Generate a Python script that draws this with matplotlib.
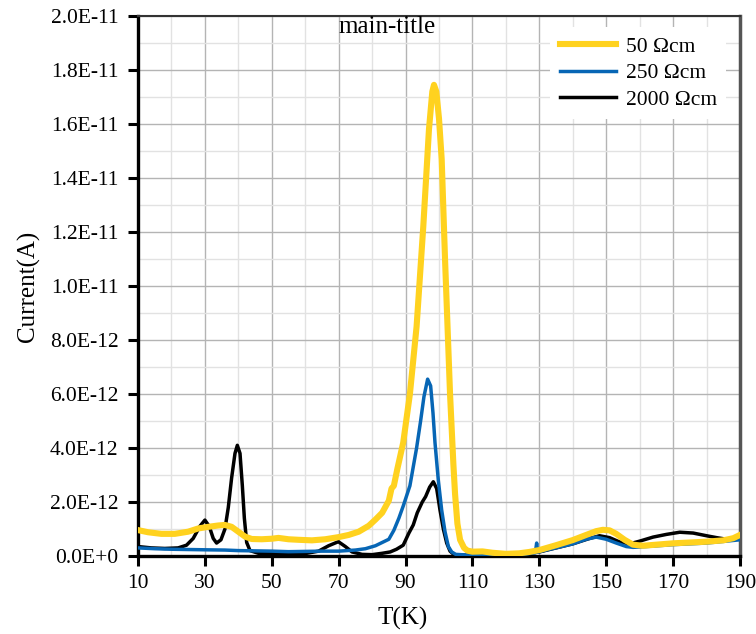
import numpy as np
import matplotlib.pyplot as plt
from matplotlib.ticker import MultipleLocator, FixedLocator

plt.rcParams['font.family'] = ['Liberation Serif', 'DejaVu Serif']

# temperature (K) / current (1e-12 A)
t_50 = [10, 13, 17, 21, 25, 28, 31, 34, 36, 38, 40, 42, 44, 47, 50, 52, 55, 58, 62, 66,
        70, 73, 76, 79, 81, 83, 85, 85.8, 86.5, 87.5, 89.3, 91.3, 93.3, 95.3, 97, 98, 98.5,
        99.2, 100, 100.8, 101.8, 103.3, 104.3, 104.8, 105.5, 106.3, 107.5, 108.5, 110, 113,
        116, 120, 124, 127, 130, 135, 140, 144, 147, 149, 151, 153, 155.5, 158, 161, 165,
        170, 175, 180, 185, 188, 190]
i_50 = [0.96, 0.88, 0.82, 0.82, 0.9, 1.02, 1.08, 1.13, 1.15, 1.08, 0.9, 0.72, 0.63, 0.62,
        0.64, 0.67, 0.62, 0.6, 0.58, 0.62, 0.7, 0.78, 0.9, 1.12, 1.35, 1.6, 2.05, 2.5, 2.6,
        3.2, 4.2, 6.0, 8.5, 12.2, 15.8, 17.2, 17.45, 17.2, 16.2, 14.7, 11.0, 6.0, 3.4, 2.3,
        1.2, 0.6, 0.3, 0.2, 0.16, 0.17, 0.12, 0.08, 0.1, 0.15, 0.22, 0.4, 0.59, 0.78, 0.92,
        0.97, 0.95, 0.82, 0.6, 0.42, 0.38, 0.42, 0.47, 0.5, 0.53, 0.58, 0.66, 0.78]

t_250 = [10, 15, 20, 25, 30, 36, 40, 45, 50, 55, 60, 65, 70, 75, 78, 81, 83, 85, 86.5, 88,
         89.3, 91.3, 93.3, 94.5, 95.5, 96.6, 97.5, 98.2, 98.8, 99.8, 100.8, 101.8, 102.8,
         103.8, 105, 108, 112, 116, 120, 125, 128.8, 129.2, 129.5, 132, 136, 140, 144, 147,
         150, 153, 156, 158, 162, 170, 180, 190]
i_250 = [0.3, 0.27, 0.25, 0.24, 0.23, 0.22, 0.2, 0.19, 0.18, 0.16, 0.17, 0.18, 0.18, 0.22,
         0.27, 0.38, 0.5, 0.62, 0.95, 1.4, 1.85, 2.6, 4.0, 5.0, 5.9, 6.55, 6.3, 5.3, 4.2,
         2.8, 1.7, 0.9, 0.35, 0.15, 0.06, 0.04, 0.05, 0.03, 0.02, 0.06, 0.12, 0.48, 0.14,
         0.22, 0.33, 0.45, 0.62, 0.7, 0.62, 0.48, 0.35, 0.32, 0.35, 0.42, 0.48, 0.6]

t_2000 = [10, 14, 18, 22, 24.5, 26.5, 28.5, 30, 31.3, 32.5, 33.5, 34.8, 36, 37, 38, 39,
          39.7, 40.5, 41.2, 41.8, 42.5, 43.5, 46, 50, 55, 60, 64, 67, 69.9, 72, 74, 77, 80,
          83, 85.4, 87.3, 89.3, 91, 92.3, 93.5, 95, 96, 97.2, 98.3, 99.3, 100.3, 101.3,
          102.3, 103.3, 104.5, 108, 115, 120, 125, 130, 135, 140, 145, 148, 151, 154, 157,
          160, 164, 168, 172, 176, 180, 183, 186, 190]
i_2000 = [0.35, 0.3, 0.28, 0.3, 0.4, 0.65, 1.1, 1.33, 1.1, 0.65, 0.48, 0.6, 1.0, 1.8, 2.9,
          3.8, 4.1, 3.8, 2.6, 1.4, 0.5, 0.2, 0.1, 0.09, 0.08, 0.09, 0.18, 0.38, 0.53, 0.35,
          0.15, 0.06, 0.05, 0.1, 0.15, 0.25, 0.4, 0.85, 1.15, 1.6, 2.0, 2.2, 2.55, 2.75, 2.5,
          1.7, 1.0, 0.48, 0.18, 0.05, 0.03, 0.03, 0.03, 0.06, 0.15, 0.3, 0.45, 0.65, 0.75,
          0.68, 0.52, 0.45, 0.55, 0.7, 0.8, 0.88, 0.85, 0.75, 0.68, 0.62, 0.62]

labels = ['50 \u03a9cm', '250 \u03a9cm', '2000 \u03a9cm']
x_ticks = [10, 30, 50, 70, 90, 110, 130, 150, 170, 190]
y_ticks = [0, 2e-12, 4e-12, 6e-12, 8e-12, 1e-11, 1.2e-11, 1.4e-11, 1.6e-11, 1.8e-11, 2e-11]
y_ticklabels = ['0.0E+0', '2.0E-12', '4.0E-12', '6.0E-12', '8.0E-12', '1.0E-11',
                '1.2E-11', '1.4E-11', '1.6E-11', '1.8E-11', '2.0E-11']

fig = plt.figure(figsize=(7.56, 6.34), dpi=100)
ax = fig.add_axes([138 / 756, 78 / 634, 602 / 756, 540 / 634])

ax.plot(t_2000, np.array(i_2000) * 1e-12, color='black', lw=2.5, label=labels[2], zorder=3)
ax.plot(t_250, np.array(i_250) * 1e-12, color='#0766b5', lw=2.5, label=labels[1], zorder=4)
ax.plot(t_50, np.array(i_50) * 1e-12, color='#ffd21f', lw=4.4, label=labels[0], zorder=5)

ax.set_xlim(10, 190)
ax.set_ylim(0, 2e-11)
ax.xaxis.set_major_locator(FixedLocator(x_ticks))
ax.xaxis.set_minor_locator(MultipleLocator(10))
ax.set_yticks(y_ticks)
ax.set_yticklabels(y_ticklabels)
ax.yaxis.set_minor_locator(MultipleLocator(1e-12))

ax.grid(which='major', color='#b4b4b4', lw=1.0)
ax.grid(which='minor', color='#e2e2e2', lw=1.0)
ax.set_axisbelow(True)

ax.tick_params(which='major', direction='out', length=7, width=2.2, labelsize=15.5)
ax.tick_params(axis='y', pad=7)
ax.tick_params(axis='x', pad=6)
ax.tick_params(which='minor', length=0)
for s in ['left', 'bottom']:
    ax.spines[s].set_linewidth(2.4)
    ax.spines[s].set_color('black')
ax.spines['top'].set_linewidth(1.5)
ax.spines['top'].set_color('#333333')
ax.spines['right'].set_linewidth(2.5)
ax.spines['right'].set_color('#555555')

ax.set_ylabel('Current(A)', fontsize=18)
ax.set_xlabel('T(K)', fontsize=18)
ax.yaxis.set_label_coords(-0.162, 0.5)
ax.xaxis.set_label_coords(0.44, -0.095)

ax.text(0.414, 0.9685, 'main-title', transform=ax.transAxes, fontsize=18,
        ha='center', va='baseline')

h, l = ax.get_legend_handles_labels()
leg = ax.legend(h[::-1], l[::-1], loc='upper left', bbox_to_anchor=(0.667, 1.0),
                fontsize=15.5, handlelength=2.6, handletextpad=0.45, labelspacing=0.3,
                frameon=True, fancybox=False, borderpad=0.45)
leg.get_frame().set_edgecolor('none')
leg.get_frame().set_facecolor('white')
leg.get_frame().set_alpha(1.0)
leg.set_zorder(10)

plt.savefig('out.png', dpi=100)
